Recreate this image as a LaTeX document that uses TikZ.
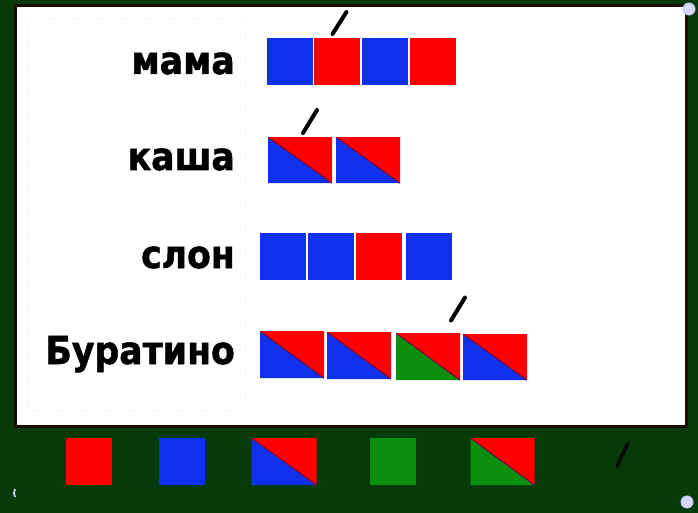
\documentclass[tikz,border=0pt]{standalone}
\usepackage{fontspec}
\setmainfont{DejaVu Sans}
\newfontfamily\wordfont[FakeStretch=0.9, BoldFeatures={FakeBold=1.3}]{DejaVu Sans}
\definecolor{bggreen}{HTML}{063A08}
\definecolor{frameC}{HTML}{1A0D05}
\definecolor{myred}{HTML}{FF0000}
\definecolor{myblue}{HTML}{1030F0}
\definecolor{mygreen}{HTML}{0A900E}
\definecolor{diagC}{HTML}{7A0A3A}
\tikzset{
  cell/.style={rectangle, inner sep=0pt, anchor=north west, minimum width=46pt, minimum height=47pt},
  wide/.style={minimum width=64pt, minimum height=46pt},
  split/.style 2 args={path picture={
     \fill[#1] (path picture bounding box.north west) -- (path picture bounding box.south west) -- (path picture bounding box.south east) -- cycle;
     \fill[myred] (path picture bounding box.north west) -- (path picture bounding box.north east) -- (path picture bounding box.south east) -- cycle;
     \draw[diagC, line width=1.2pt] (path picture bounding box.north west) -- (path picture bounding box.south east);}},
  word/.style={anchor=base east, font=\wordfont\fontsize{38.5}{40}\selectfont\bfseries, text=black, inner sep=0pt},
  tick/.style={line width=4pt, line cap=round, black},
  icon/.style={circle, draw=white!75!blue, fill=white!85!blue, line width=1pt, minimum size=12pt, inner sep=0pt},
}
\begin{document}
\begin{tikzpicture}[x=1pt, y=-1pt]
\useasboundingbox (0,0) rectangle (698,513);
\fill[bggreen] (0,0) rectangle (698,513);
% panel
\draw[frameC, line width=3.5pt, fill=white] (15.5,5.5) rectangle (686.5,426.5);
\draw[black!6, dotted] (28,18) rectangle (245,410);
% words
\node[word] (w1) at (235,74) {мама};
\node[word] (w2) at (235,170) {каша};
\node[word] (w3) at (235,268) {слон};
\node[word] (w4) at (235,364) {Буратино};
% row 1
\node[cell, fill=myblue] (a1) at (266.5,38) {};
\node[cell, fill=myred]  (a2) at (314,38) {};
\node[cell, fill=myblue] (a3) at (362,38) {};
\node[cell, fill=myred]  (a4) at (410,38) {};
\coordinate (t1a) at (332.5,34);
\coordinate (t1b) at (346.5,12);
\draw[tick] (t1a) -- (t1b);
% row 2
\node[cell, wide, split={myblue}{}] (b1) at (268,137) {};
\node[cell, wide, split={myblue}{}] (b2) at (336,137) {};
\coordinate (t2a) at (303,133);
\coordinate (t2b) at (317,110);
\draw[tick] (t2a) -- (t2b);
% row 3
\node[cell, fill=myblue] (c1) at (260,233) {};
\node[cell, fill=myblue] (c2) at (308,233) {};
\node[cell, fill=myred]  (c3) at (356,233) {};
\node[cell, fill=myblue] (c4) at (405.5,233) {};
% row 4
\node[cell, wide, minimum height=47pt, split={myblue}{}] (d1) at (260,331) {};
\node[cell, wide, minimum height=47pt, split={myblue}{}] (d2) at (327,332) {};
\node[cell, wide, minimum height=47pt, split={mygreen}{}] (d3) at (396,333) {};
\node[cell, wide, minimum height=46pt, split={myblue}{}] (d4) at (463,334) {};
\coordinate (t3a) at (451,320.5);
\coordinate (t3b) at (465,297.5);
\draw[tick] (t3a) -- (t3b);
% bottom palette
\node[cell, fill=myred] (p1) at (66,438) {};
\node[cell, fill=myblue] (p2) at (159,438) {};
\node[cell, wide, minimum width=65pt, minimum height=47pt, split={myblue}{}] (p3) at (251.5,438) {};
\node[cell, fill=mygreen] (p4) at (370,438) {};
\node[cell, wide, minimum width=64pt, minimum height=47pt, split={mygreen}{}] (p5) at (470.5,438) {};
\coordinate (t4a) at (617,466);
\coordinate (t4b) at (628,443);
\draw[tick, line width=3.5pt, black!85!bggreen] (t4a) -- (t4b);
% small icons
\node[icon] (i1) at (689,9) {};
\node[icon] (i2) at (687,502) {};
\draw[white!80!blue, line width=1.8pt] (15,497) arc (150:210:8);
\end{tikzpicture}
\end{document}
